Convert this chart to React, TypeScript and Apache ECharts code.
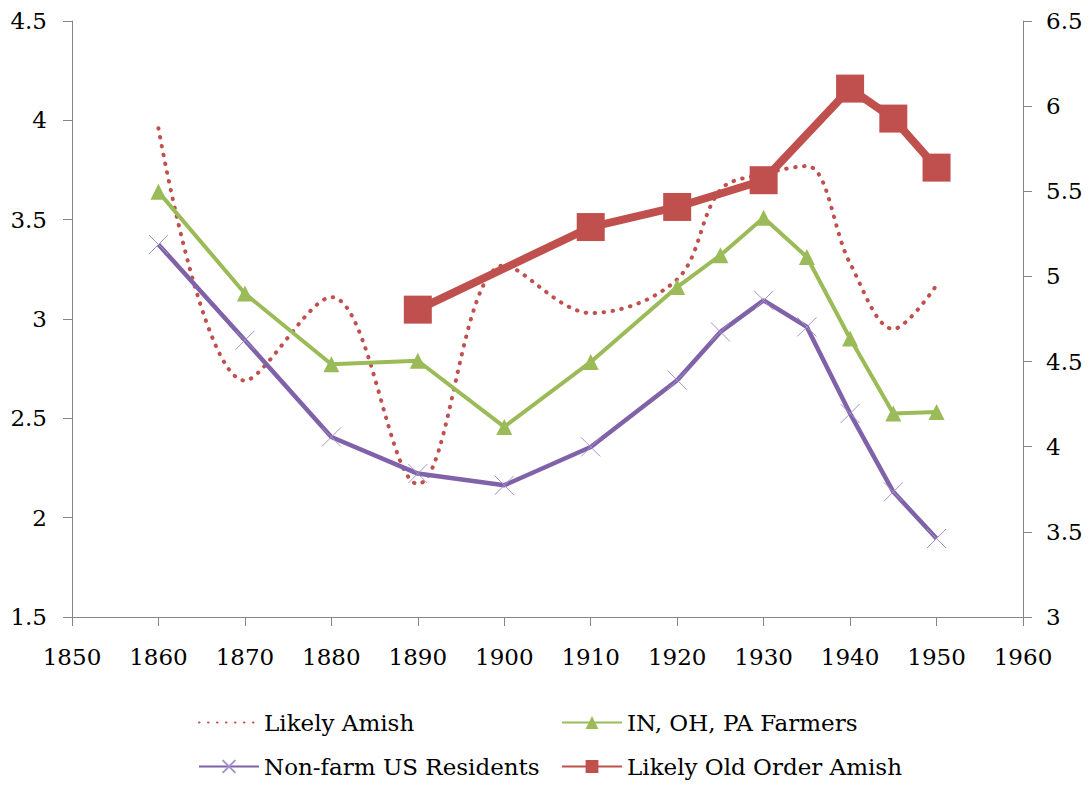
import React, { useEffect, useRef } from "react";
import * as echarts from "echarts";

const years = [1860, 1870, 1880, 1890, 1900, 1910, 1920, 1925, 1930, 1935, 1940, 1945, 1950];
const likelyAmish = [3.96, 2.69, 3.11, 2.17, 3.27, 3.03, 3.2, 3.65, 3.73, 3.77, 3.28, 2.95, 3.17];
const farmers = [3.64, 3.128, 2.772, 2.79, 2.457, 2.784, 3.161, 3.321, 3.51, 3.312, 2.902, 2.524, 2.532];
const nonFarm = [3.375, 2.893, 2.406, 2.222, 2.163, 2.356, 2.692, 2.935, 3.094, 2.96, 2.524, 2.13, 1.895];
const oldOrderYears = [1890, 1910, 1920, 1930, 1940, 1945, 1950];
const oldOrder = [4.805, 5.29, 5.408, 5.565, 6.103, 5.927, 5.639];

const names = ["Likely Amish", "IN, OH, PA Farmers", "Non-farm US Residents", "Likely Old Order Amish"];

const FONT = "DejaVu Serif";
const AXIS_FS = 23;
const LEGEND_FS = 23;
const AXIS_COLOR = "#868686";

const pair = (xs: number[], ys: number[]) => xs.map((x, i) => [x, ys[i]]);

export default function App() {
  const ref = useRef<HTMLDivElement>(null);
  useEffect(() => {
    if (!ref.current) return;
    const chart = echarts.init(ref.current, undefined, { renderer: "svg" });
    const legendBase = {
      orient: "horizontal",
      itemWidth: 60,
      itemHeight: 16,
      textStyle: { fontFamily: FONT, fontSize: LEGEND_FS, color: "#000" },
      selectedMode: false,
    };
    chart.setOption({
      animation: false,
      backgroundColor: "#fff",
      textStyle: { fontFamily: FONT },
      grid: { left: 72, right: 67, top: 21, bottom: 168, containLabel: false },
      legend: [
        { ...legendBase, data: [names[0]], left: 193, top: 706, itemStyle: { opacity: 0 } },
        { ...legendBase, data: [names[1]], left: 556, top: 706 },
        { ...legendBase, data: [names[2]], left: 193, top: 750 },
        { ...legendBase, data: [names[3]], left: 556, top: 750 },
      ],
      xAxis: {
        type: "value",
        min: 1850,
        max: 1960,
        interval: 10,
        axisLine: { show: true, lineStyle: { color: AXIS_COLOR, width: 1 } },
        axisTick: { show: true, length: 9, lineStyle: { color: AXIS_COLOR } },
        splitLine: { show: false },
        axisLabel: {
          fontFamily: FONT,
          fontSize: AXIS_FS,
          color: "#000",
          margin: 28,
          formatter: (v: number) => String(v),
        },
      },
      yAxis: [
        {
          type: "value",
          min: 1.5,
          max: 4.5,
          interval: 0.5,
          position: "left",
          axisLine: { show: true, lineStyle: { color: AXIS_COLOR, width: 1 } },
          axisTick: { show: true, length: 9, lineStyle: { color: AXIS_COLOR } },
          splitLine: { show: false },
          axisLabel: { fontFamily: FONT, fontSize: AXIS_FS, color: "#000", margin: 25 },
        },
        {
          type: "value",
          min: 3,
          max: 6.5,
          interval: 0.5,
          position: "right",
          axisLine: { show: true, lineStyle: { color: AXIS_COLOR, width: 1 } },
          axisTick: { show: true, length: 9, lineStyle: { color: AXIS_COLOR } },
          splitLine: { show: false },
          axisLabel: { fontFamily: FONT, fontSize: AXIS_FS, color: "#000", margin: 23 },
        },
      ],
      series: [
        {
          name: names[0],
          type: "line",
          yAxisIndex: 0,
          data: pair(years, likelyAmish),
          smooth: 0.35,
          symbol: "none",
          showSymbol: false,
          itemStyle: { color: "#C0504D" },
          lineStyle: { color: "#C0504D", width: 4, type: [0.5, 8.5], cap: "round" },
          z: 2,
        },
        {
          name: names[1],
          type: "line",
          yAxisIndex: 0,
          data: pair(years, farmers),
          symbol: "triangle",
          symbolSize: 16,
          itemStyle: { color: "#9BBB59" },
          lineStyle: { color: "#9BBB59", width: 4 },
          z: 3,
        },
        {
          name: names[2],
          type: "line",
          yAxisIndex: 0,
          data: pair(years, nonFarm),
          symbol: "path://M0,0L10,10M10,0L0,10",
          symbolSize: 19,
          itemStyle: { color: "rgba(0,0,0,0)", borderColor: "#A493CC", borderWidth: 1 },
          lineStyle: { color: "#7F62A8", width: 4.5 },
          z: 3,
        },
        {
          name: names[3],
          type: "line",
          yAxisIndex: 1,
          data: pair(oldOrderYears, oldOrder),
          symbol: "rect",
          symbolSize: 28,
          itemStyle: { color: "#C0504D" },
          lineStyle: { color: "#C0504D", width: 8 },
          z: 4,
        },
      ],
    });
    return () => chart.dispose();
  }, []);
  return (
    <div
      ref={ref}
      style={{ position: "fixed", left: 0, top: 0, width: 1090, height: 785, background: "#fff" }}
    />
  );
}
